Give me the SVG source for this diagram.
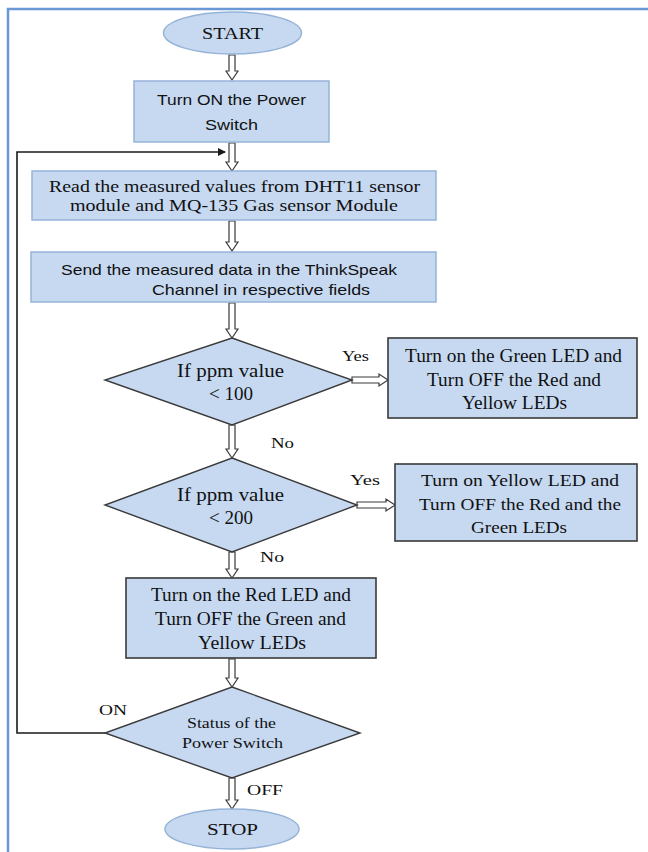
<svg xmlns="http://www.w3.org/2000/svg" width="648" height="852" viewBox="0 0 648 852">
<defs>
<style>
.bg{fill:#ffffff}
.frame{fill:none;stroke:#6a98d4;stroke-width:2.5}
.term{fill:#c6d9f1;stroke:#95b3d7;stroke-width:1.5}
.pbox{fill:#c6d9f1;stroke:#95b3d7;stroke-width:1.5}
.dbox{fill:#c6d9f1;stroke:#3a3a3a;stroke-width:1.6}
.dia{fill:#c6d9f1;stroke:#3a3a3a;stroke-width:1.4}
.harrow{fill:#ffffff;stroke:#3a3a3a;stroke-width:1.2;stroke-linejoin:miter}
.line{fill:none;stroke:#1a1a1a;stroke-width:1.6}
.serif{font-family:"Liberation Serif","Times New Roman",serif;fill:#111;text-anchor:middle}
.sans{font-family:"Liberation Sans",Arial,sans-serif;fill:#111;text-anchor:middle}
.lbl{font-family:"Liberation Serif","Times New Roman",serif;fill:#111;font-size:15px}
</style>
<marker id="ah" markerWidth="8" markerHeight="8" refX="7" refY="4" orient="auto" markerUnits="userSpaceOnUse">
<path d="M0,0 L8,4 L0,8 Z" fill="#1a1a1a"/>
</marker>
</defs>
<rect class="bg" x="0" y="0" width="648" height="852"/>
<path class="frame" d="M8,852 L8,9 L648,9"/>

<g id="connectors">
<polygon class="harrow" points="229,55 235,55 235,71 238,71 232,80 226,71 229,71"/>
<polygon class="harrow" points="229,143 235,143 235,162 238,162 232,171 226,162 229,162"/>
<polygon class="harrow" points="229,221 235,221 235,242 238,242 232,251 226,242 229,242"/>
<polygon class="harrow" points="229,303 235,303 235,329 238,329 232,338 226,329 229,329"/>
<polygon class="harrow" points="352,377 352,383 379,383 379,386 388,380 379,374 379,377"/>
<polygon class="harrow" points="229,425 235,425 235,449 238,449 232,458 226,449 229,449"/>
<polygon class="harrow" points="357,502 357,508 386,508 386,511 395,505 386,499 386,502"/>
<polygon class="harrow" points="229,552 235,552 235,569 238,569 232,578 226,569 229,569"/>
<polygon class="harrow" points="229,659 235,659 235,678 238,678 232,687 226,678 229,678"/>
<polygon class="harrow" points="229,778 235,778 235,800 238,800 232,809 226,800 229,800"/>
<path class="line" d="M105,733 L17,733 L17,152 L225,152" marker-end="url(#ah)"/>
<text class="lbl" x="342" y="361" textLength="27" lengthAdjust="spacingAndGlyphs">Yes</text>
<text class="lbl" x="271" y="448" textLength="23" lengthAdjust="spacingAndGlyphs">No</text>
<text class="lbl" x="350" y="485" textLength="30" lengthAdjust="spacingAndGlyphs">Yes</text>
<text class="lbl" x="260" y="562" textLength="24" lengthAdjust="spacingAndGlyphs">No</text>
<text class="lbl" x="99" y="715" textLength="28" lengthAdjust="spacingAndGlyphs">ON</text>
<text class="lbl" x="247" y="795" textLength="36" lengthAdjust="spacingAndGlyphs">OFF</text>
</g>

<g id="start">
<ellipse class="term" cx="232.5" cy="33" rx="69" ry="21"/>
<text class="serif" x="232.5" y="39" font-size="17" textLength="61" lengthAdjust="spacingAndGlyphs">START</text>
</g>

<g id="power-on">
<rect class="pbox" x="134" y="81" width="195" height="61"/>
<text class="sans" x="231.5" y="105" font-size="15" textLength="149" lengthAdjust="spacingAndGlyphs">Turn ON the Power</text>
<text class="sans" x="231.5" y="130" font-size="15" textLength="53" lengthAdjust="spacingAndGlyphs">Switch</text>
</g>

<g id="read">
<rect class="pbox" x="32" y="171" width="404" height="49"/>
<text class="serif" x="234.5" y="192" font-size="16" textLength="371" lengthAdjust="spacingAndGlyphs">Read the measured values from DHT11 sensor</text>
<text class="serif" x="234" y="211" font-size="16" textLength="328" lengthAdjust="spacingAndGlyphs">module and MQ-135 Gas sensor Module</text>
</g>

<g id="send">
<rect class="pbox" x="31" y="252" width="405" height="50"/>
<text class="sans" x="229" y="275" font-size="14.5" textLength="336" lengthAdjust="spacingAndGlyphs">Send the measured data in the ThinkSpeak</text>
<text class="sans" x="261" y="295" font-size="14.5" textLength="218" lengthAdjust="spacingAndGlyphs">Channel in respective fields</text>
</g>

<g id="dec100">
<polygon class="dia" points="232,338 352,380 232,425 105,380"/>
<text class="serif" x="230.5" y="377" font-size="18.5" textLength="107" lengthAdjust="spacingAndGlyphs">If ppm value</text>
<text class="serif" x="231" y="400" font-size="18.5" textLength="44" lengthAdjust="spacingAndGlyphs">&lt; 100</text>
</g>

<g id="green">
<rect class="dbox" x="388" y="338" width="249" height="80"/>
<text class="serif" x="513.5" y="362" font-size="18" textLength="217" lengthAdjust="spacingAndGlyphs">Turn on the Green LED and</text>
<text class="serif" x="514" y="386" font-size="18" textLength="174" lengthAdjust="spacingAndGlyphs">Turn OFF the Red and</text>
<text class="serif" x="514.5" y="409" font-size="18" textLength="105" lengthAdjust="spacingAndGlyphs">Yellow LEDs</text>
</g>

<g id="dec200">
<polygon class="dia" points="232,458 357,505 232,552 105,505"/>
<text class="serif" x="230.5" y="501" font-size="18.5" textLength="107" lengthAdjust="spacingAndGlyphs">If ppm value</text>
<text class="serif" x="231" y="524" font-size="18.5" textLength="44" lengthAdjust="spacingAndGlyphs">&lt; 200</text>
</g>

<g id="yellow">
<rect class="dbox" x="395" y="464" width="242" height="77"/>
<text class="serif" x="520" y="486" font-size="17" textLength="198" lengthAdjust="spacingAndGlyphs">Turn on Yellow LED and</text>
<text class="serif" x="520" y="510" font-size="17" textLength="202" lengthAdjust="spacingAndGlyphs">Turn OFF the Red and the</text>
<text class="serif" x="519" y="533" font-size="17" textLength="96" lengthAdjust="spacingAndGlyphs">Green LEDs</text>
</g>

<g id="red">
<rect class="dbox" x="126" y="578" width="250" height="80"/>
<text class="serif" x="251" y="601" font-size="18" textLength="200" lengthAdjust="spacingAndGlyphs">Turn on the Red LED and</text>
<text class="serif" x="250.5" y="625" font-size="18" textLength="191" lengthAdjust="spacingAndGlyphs">Turn OFF the Green and</text>
<text class="serif" x="252" y="649" font-size="18" textLength="108" lengthAdjust="spacingAndGlyphs">Yellow LEDs</text>
</g>

<g id="status">
<polygon class="dia" points="232,687 360,733 232,778 105,733"/>
<text class="serif" x="231.5" y="728" font-size="14.5" textLength="89" lengthAdjust="spacingAndGlyphs">Status of the</text>
<text class="serif" x="232.5" y="748" font-size="14.5" textLength="101" lengthAdjust="spacingAndGlyphs">Power Switch</text>
</g>

<g id="stop">
<ellipse class="term" cx="232" cy="829" rx="67" ry="20"/>
<text class="serif" x="232.5" y="835" font-size="17" textLength="51" lengthAdjust="spacingAndGlyphs">STOP</text>
</g>
</svg>
